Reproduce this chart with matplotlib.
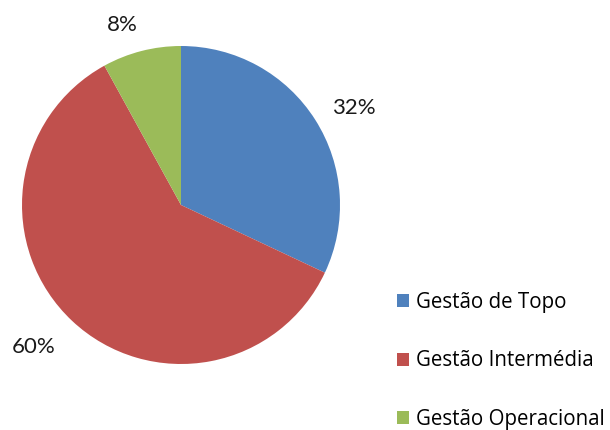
import matplotlib
matplotlib.use("Agg")
import numpy as np
import matplotlib.pyplot as plt
from matplotlib.patches import Patch

categories = ["Gestão de Topo", "Gestão Intermédia", "Gestão Operacional"]
values = [32, 60, 8]
colors = ["#4F81BD", "#C0504D", "#9BBB59"]
label_dist = [1.25, 1.29, 1.19]
label_turn = [-3.1, -2.8, 3.7]

plt.rcParams['font.family'] = ['Lato', 'DejaVu Sans']

fig = plt.figure(figsize=(6.1, 4.3), dpi=100)
ax = fig.add_axes([0, 0, 1, 1])

cx, cy, r = 181, 225, 159
wedges, texts, autotexts = ax.pie(
    values, colors=colors, startangle=90, counterclock=False,
    center=(cx, cy), radius=r, frame=True,
    autopct='%1.0f%%', pctdistance=1.25,
    textprops=dict(fontsize=16, color='#1a1a1a'),
    wedgeprops=dict(linewidth=0),
)
for w, t, d, o in zip(wedges, autotexts, label_dist, label_turn):
    ang = np.deg2rad((w.theta1 + w.theta2) / 2 + o)
    t.set_position((cx + d * r * np.cos(ang), cy + d * r * np.sin(ang)))

ax.set_xlim(0, 610)
ax.set_ylim(0, 430)
ax.axis('off')

handles = [Patch(facecolor=c, edgecolor='none') for c in colors]
fig.legend(handles, categories, loc='upper left', bbox_to_anchor=(397/610, 1 - 292/430),
           frameon=False, prop=dict(family=['Open Sans', 'DejaVu Sans'], size=14.8),
           handlelength=0.6, handleheight=0.6,
           handletextpad=0.3, labelspacing=1.82, borderaxespad=0, borderpad=0)

fig.savefig("out.png", dpi=100)
